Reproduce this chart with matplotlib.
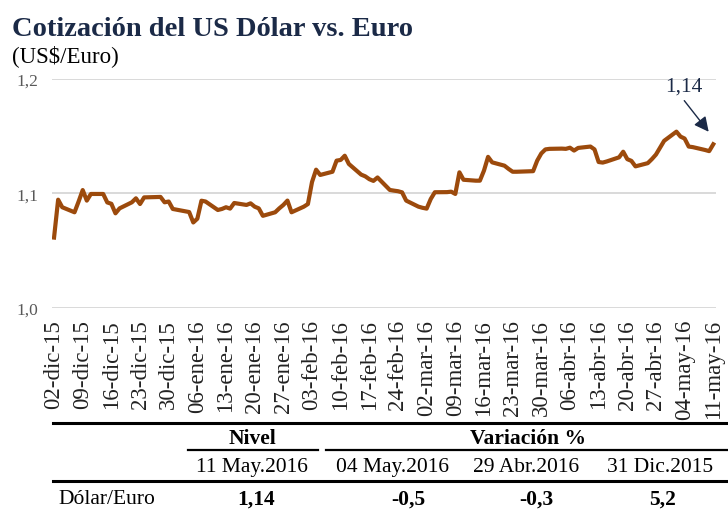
import matplotlib
matplotlib.use('Agg')
import matplotlib.pyplot as plt
import matplotlib.dates as mdates
from matplotlib.lines import Line2D
import pandas as pd

plt.rcParams['font.family'] = ['Liberation Serif', 'DejaVu Serif']

# Serie diaria US$/Euro
fechas = [
    '2015-12-02', '2015-12-03', '2015-12-04', '2015-12-07', '2015-12-08', '2015-12-09',
    '2015-12-10', '2015-12-11', '2015-12-14', '2015-12-15', '2015-12-16', '2015-12-17',
    '2015-12-18', '2015-12-21', '2015-12-22', '2015-12-23', '2015-12-24', '2015-12-28',
    '2015-12-29', '2015-12-30', '2015-12-31',
    '2016-01-04', '2016-01-05', '2016-01-06', '2016-01-07', '2016-01-08', '2016-01-11',
    '2016-01-12', '2016-01-13', '2016-01-14', '2016-01-15', '2016-01-18', '2016-01-19',
    '2016-01-20', '2016-01-21', '2016-01-22', '2016-01-25', '2016-01-26', '2016-01-27',
    '2016-01-28', '2016-01-29',
    '2016-02-01', '2016-02-02', '2016-02-03', '2016-02-04', '2016-02-05', '2016-02-08',
    '2016-02-09', '2016-02-10', '2016-02-11', '2016-02-12', '2016-02-15', '2016-02-16',
    '2016-02-17', '2016-02-18', '2016-02-19', '2016-02-22', '2016-02-23', '2016-02-24',
    '2016-02-25', '2016-02-26', '2016-02-29',
    '2016-03-01', '2016-03-02', '2016-03-03', '2016-03-04', '2016-03-07', '2016-03-08',
    '2016-03-09', '2016-03-10', '2016-03-11', '2016-03-14', '2016-03-15', '2016-03-16',
    '2016-03-17', '2016-03-18', '2016-03-21', '2016-03-22', '2016-03-23', '2016-03-24',
    '2016-03-28', '2016-03-29', '2016-03-30', '2016-03-31',
    '2016-04-01', '2016-04-04', '2016-04-05', '2016-04-06', '2016-04-07', '2016-04-08',
    '2016-04-11', '2016-04-12', '2016-04-13', '2016-04-14', '2016-04-15', '2016-04-18',
    '2016-04-19', '2016-04-20', '2016-04-21', '2016-04-22', '2016-04-25', '2016-04-26',
    '2016-04-27', '2016-04-28', '2016-04-29',
    '2016-05-02', '2016-05-03', '2016-05-04', '2016-05-05', '2016-05-06', '2016-05-09',
    '2016-05-10', '2016-05-11',
]
valores = [
    1.0615, 1.0946, 1.0880, 1.0836, 1.0930, 1.1030,
    1.0938, 1.0996, 1.0996, 1.0922, 1.0910, 1.0827,
    1.0870, 1.0923, 1.0958, 1.0908, 1.0966, 1.0970,
    1.0923, 1.0930, 1.0865,
    1.0838, 1.0747, 1.0780, 1.0937, 1.0930, 1.0856,
    1.0865, 1.0880, 1.0868, 1.0917, 1.0900, 1.0914,
    1.0885, 1.0870, 1.0805, 1.0836, 1.0870, 1.0900,
    1.0938, 1.0836,
    1.0885, 1.0908, 1.1100, 1.1208, 1.1162, 1.1190,
    1.1287, 1.1293, 1.1330, 1.1258, 1.1165, 1.1150,
    1.1125, 1.1110, 1.1140, 1.1031, 1.1025, 1.1020,
    1.1010, 1.0938, 1.0885,
    1.0875, 1.0868, 1.0952, 1.1011, 1.1012, 1.1016,
    1.0996, 1.1185, 1.1120, 1.1112, 1.1112, 1.1200,
    1.1320, 1.1272, 1.1243, 1.1215, 1.1190, 1.1190,
    1.1195, 1.1287, 1.1350, 1.1385,
    1.1390, 1.1392, 1.1390, 1.1400, 1.1375, 1.1398,
    1.1410, 1.1385, 1.1275, 1.1270, 1.1280, 1.1316,
    1.1365, 1.1300, 1.1285, 1.1237, 1.1265, 1.1300,
    1.1340, 1.1400, 1.1460,
    1.1540, 1.1497, 1.1480, 1.1410, 1.1405, 1.1380,
    1.1370, 1.1430,
]

tick_fechas = ['2015-12-02', '2015-12-09', '2015-12-16', '2015-12-23', '2015-12-30',
               '2016-01-06', '2016-01-13', '2016-01-20', '2016-01-27', '2016-02-03',
               '2016-02-10', '2016-02-17', '2016-02-24', '2016-03-02', '2016-03-09',
               '2016-03-16', '2016-03-23', '2016-03-30', '2016-04-06', '2016-04-13',
               '2016-04-20', '2016-04-27', '2016-05-04', '2016-05-11']
tick_labels = ['02-dic-15', '09-dic-15', '16-dic-15', '23-dic-15', '30-dic-15',
               '06-ene-16', '13-ene-16', '20-ene-16', '27-ene-16', '03-feb-16',
               '10-feb-16', '17-feb-16', '24-feb-16', '02-mar-16', '09-mar-16',
               '16-mar-16', '23-mar-16', '30-mar-16', '06-abr-16', '13-abr-16',
               '20-abr-16', '27-abr-16', '04-may-16', '11-may-16']

# Tabla inferior
tabla_fechas = ['11 May.2016', '04 May.2016', '29 Abr.2016', '31 Dic.2015']
tabla_valores = ['1,14', '-0,5', '-0,3', '5,2']
ultimo_valor = '1,14'

navy = '#1b2a47'
brown = '#9c4a0c'
W, H = 728, 510


def fx(px):
    return px / W


def fy(py):
    return 1 - py / H


fig = plt.figure(figsize=(7.28, 5.10), dpi=100)
ax = fig.add_axes([fx(52), fy(309), (716 - 52) / W, (309 - 80) / H])

x = pd.to_datetime(fechas)
ax.plot(x, valores, color=brown, lw=3.0, solid_joinstyle='round', zorder=3)

ax.set_ylim(1.0, 1.2)
ax.set_yticks([1.0, 1.1, 1.2])
ax.set_yticklabels(['1,0', '1,1', '1,2'], color='#595959', fontsize=12.5)
ax.set_xlim(pd.Timestamp('2015-12-02') - pd.Timedelta(hours=12),
            pd.Timestamp('2016-05-11') + pd.Timedelta(hours=16))
ax.set_xticks(pd.to_datetime(tick_fechas))
ax.set_xticklabels(tick_labels, rotation=90, fontsize=16.5, color='#222222')
ax.tick_params(axis='x', length=0, pad=8)
ax.tick_params(axis='y', length=0, pad=10)
ax.yaxis.grid(True, color='#d9d9d9', lw=1.4)
ax.set_axisbelow(True)
for s in ax.spines.values():
    s.set_visible(False)

# anotación del último dato
x_fin = mdates.date2num(pd.Timestamp('2016-05-11'))
ax.annotate('', xy=(x_fin - 0.7, 1.152), xytext=(x_fin - 7.5, 1.183),
            arrowprops=dict(arrowstyle='-|>', color=navy, lw=1.0, mutation_scale=22))
ax.text(x_fin - 7.3, 1.194, ultimo_valor, ha='center', va='center', fontsize=15.5, color=navy)

# títulos
fig.text(fx(12), fy(36), 'Cotización del US Dólar vs. Euro', fontsize=20.5,
         fontweight='bold', color=navy, va='baseline')
fig.text(fx(12), fy(62), '(US$/Euro)', fontsize=16.5, color='black', va='baseline')

# tabla
fig.add_artist(Line2D([fx(53), fx(728)], [fy(424), fy(424)], color='black', lw=2.2))
fig.add_artist(Line2D([fx(188), fx(318)], [fy(451), fy(451)], color='black', lw=1.6))
fig.add_artist(Line2D([fx(326), fx(728)], [fy(451), fy(451)], color='black', lw=1.6))
fig.add_artist(Line2D([fx(53), fx(728)], [fy(482), fy(482)], color='black', lw=2.2))

fig.text(fx(252), fy(439), 'Nivel', ha='center', va='center', fontsize=15.5, fontweight='bold')
fig.text(fx(528), fy(439), 'Variación %', ha='center', va='center', fontsize=15.5,
         fontweight='bold')
for cx, t in zip([252, 392, 526, 660], tabla_fechas):
    fig.text(fx(cx), fy(468), t, ha='center', va='center', fontsize=15.5)
fig.text(fx(58), fy(500), 'Dólar/Euro', ha='left', va='center', fontsize=15.5)
for cx, t in zip([256, 408, 536, 662], tabla_valores):
    fig.text(fx(cx), fy(500), t, ha='center', va='center', fontsize=15.5, fontweight='bold')

fig.savefig('out.png', dpi=100)
